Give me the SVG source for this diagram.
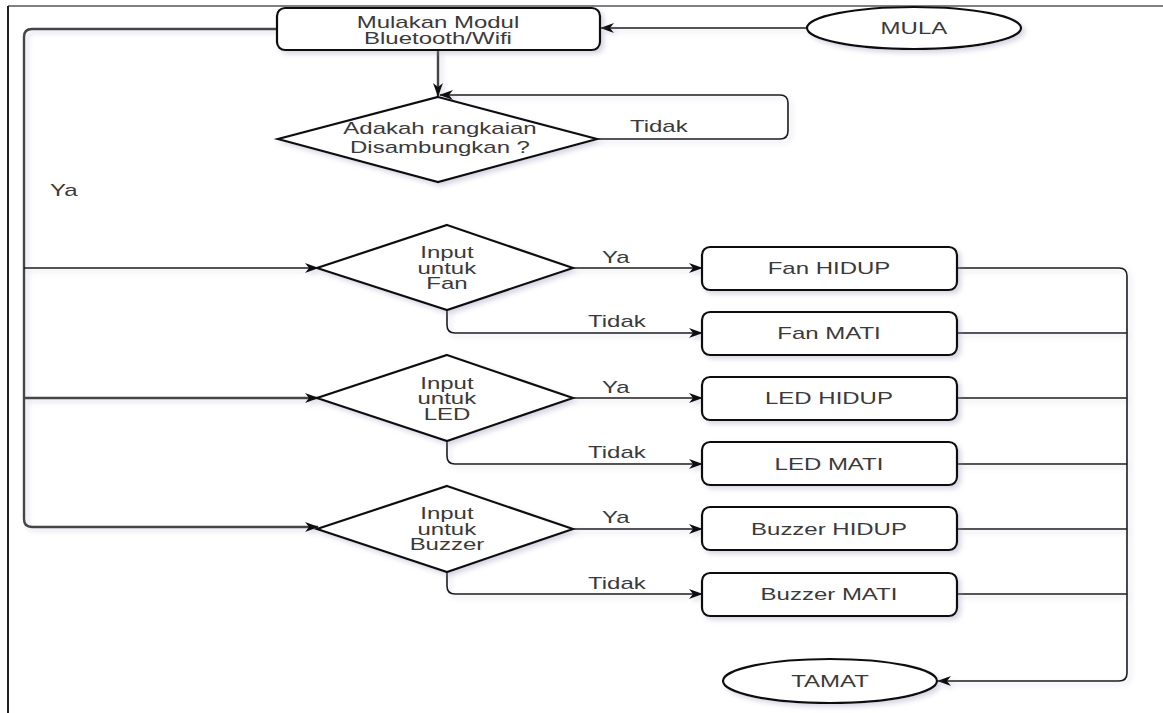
<svg xmlns="http://www.w3.org/2000/svg" width="1163" height="713" viewBox="0 0 1163 713">
  <style>
    .node { fill: #ffffff; stroke: #111111; stroke-width: 2.2; filter: url(#shadow); }
    .edge { fill: none; stroke: #1a1a1a; stroke-width: 1.6; }
    .edge.thick { stroke: #444444; stroke-width: 2.4; }
    .edge.arrow { marker-end: url(#arrow); }
    .t { font-family: "Liberation Sans", Arial, sans-serif; font-size: 16px; fill: #3a3a3a; text-anchor: middle;
         transform-box: fill-box; transform-origin: center; transform: scaleX(1.5); }
    .frame { fill: none; stroke-width: 2; }
  </style>
  <defs>
    <filter id="shadow" x="-20%" y="-20%" width="140%" height="160%">
      <feDropShadow dx="3" dy="3" stdDeviation="2.5" flood-color="#8a8ab0" flood-opacity="0.35"/>
    </filter>
    <!-- user-space region so zero-height straight lines still render -->
    <filter id="lineShadow" filterUnits="userSpaceOnUse" x="0" y="0" width="1163" height="713">
      <feDropShadow dx="3" dy="3" stdDeviation="2.5" flood-color="#8a8ab0" flood-opacity="0.3"/>
    </filter>
    <marker id="arrow" viewBox="0 0 14 10" refX="13" refY="5" markerWidth="14" markerHeight="10" markerUnits="userSpaceOnUse" orient="auto">
      <path d="M0 0 L14 5 L0 10 L4 5 Z" fill="#111111"/>
    </marker>
  </defs>

  <rect width="1163" height="713" fill="#ffffff"/>

  <!-- page frame -->
  <line class="frame" x1="8" y1="6" x2="1163" y2="6" stroke="#808080"/>
  <line class="frame" x1="8" y1="6" x2="8" y2="713" stroke="#222222"/>

  <!-- connectors -->
  <g id="connectors">
    <g filter="url(#lineShadow)">
      <path class="edge arrow" d="M807 28 H601"/>
      <path class="edge thick arrow" d="M438 50 V96"/>
      <path class="edge arrow" d="M597 139 H780 Q788 139 788 131 V103 Q788 95 780 95 H440"/>
      <path class="edge thick arrow" d="M277 29 H32 Q24 29 24 37 V519 Q24 527 32 527 H318"/>
      <path class="edge arrow" d="M24 268 H318"/>
      <path class="edge thick arrow" d="M24 398 H318"/>

      <path class="edge arrow" d="M573 268 H702"/>
      <path class="edge arrow" d="M447 310 V325 Q447 333 455 333 H702"/>
      <path class="edge arrow" d="M573 398 H702"/>
      <path class="edge arrow" d="M447 441 V456 Q447 464 455 464 H702"/>
      <path class="edge arrow" d="M573 529 H702"/>
      <path class="edge arrow" d="M447 572 V586 Q447 594 455 594 H702"/>

      <path class="edge arrow" d="M957 268 H1119 Q1127 268 1127 276 V673 Q1127 681 1119 681 H938"/>
      <path class="edge" d="M957 333 H1127"/>
      <path class="edge" d="M957 398 H1127"/>
      <path class="edge" d="M957 464 H1127"/>
      <path class="edge" d="M957 529 H1127"/>
      <path class="edge" d="M957 594 H1127"/>
    </g>

    <text class="t" x="659" y="132">Tidak</text>
    <text class="t" x="64" y="196">Ya</text>
    <text class="t" x="616" y="263">Ya</text>
    <text class="t" x="617" y="327">Tidak</text>
    <text class="t" x="616" y="393">Ya</text>
    <text class="t" x="617" y="458">Tidak</text>
    <text class="t" x="616" y="523">Ya</text>
    <text class="t" x="617" y="589">Tidak</text>
  </g>

  <g id="mula">
    <ellipse class="node" cx="914" cy="28" rx="107" ry="21"/>
    <text class="t" x="914" y="34">MULA</text>
  </g>

  <g id="init-module">
    <rect class="node" x="277" y="8" width="323" height="42" rx="8"/>
    <text class="t" x="438" y="28">Mulakan Modul</text>
    <text class="t" x="438" y="44">Bluetooth/Wifi</text>
  </g>

  <g id="connected-check">
    <polygon class="node" points="438,97 597,139 438,182 278,139"/>
    <text class="t" x="440" y="134">Adakah rangkaian</text>
    <text class="t" x="440" y="153">Disambungkan ?</text>
  </g>

  <g id="fan-input">
    <polygon class="node" points="447,225 573,268 447,310 317,268"/>
    <text class="t" x="447" y="258">Input</text>
    <text class="t" x="447" y="274">untuk</text>
    <text class="t" x="447" y="289">Fan</text>
  </g>

  <g id="led-input">
    <polygon class="node" points="447,355 573,398 447,441 317,398"/>
    <text class="t" x="447" y="389">Input</text>
    <text class="t" x="447" y="404">untuk</text>
    <text class="t" x="447" y="420">LED</text>
  </g>

  <g id="buzzer-input">
    <polygon class="node" points="447,486 573,529 447,572 317,529"/>
    <text class="t" x="447" y="519">Input</text>
    <text class="t" x="447" y="535">untuk</text>
    <text class="t" x="447" y="550">Buzzer</text>
  </g>

  <g id="fan-on">
    <rect class="node" x="702" y="247" width="255" height="43" rx="8"/>
    <text class="t" x="829" y="274">Fan HIDUP</text>
  </g>
  <g id="fan-off">
    <rect class="node" x="702" y="312" width="255" height="43" rx="8"/>
    <text class="t" x="829" y="339">Fan MATI</text>
  </g>
  <g id="led-on">
    <rect class="node" x="702" y="377" width="255" height="43" rx="8"/>
    <text class="t" x="829" y="404">LED HIDUP</text>
  </g>
  <g id="led-off">
    <rect class="node" x="702" y="442" width="255" height="43" rx="8"/>
    <text class="t" x="829" y="470">LED MATI</text>
  </g>
  <g id="buzzer-on">
    <rect class="node" x="702" y="507" width="255" height="43" rx="8"/>
    <text class="t" x="829" y="535">Buzzer HIDUP</text>
  </g>
  <g id="buzzer-off">
    <rect class="node" x="702" y="573" width="255" height="43" rx="8"/>
    <text class="t" x="829" y="600">Buzzer MATI</text>
  </g>

  <g id="tamat">
    <ellipse class="node" cx="830" cy="681" rx="107" ry="22"/>
    <text class="t" x="830" y="687">TAMAT</text>
  </g>
</svg>
